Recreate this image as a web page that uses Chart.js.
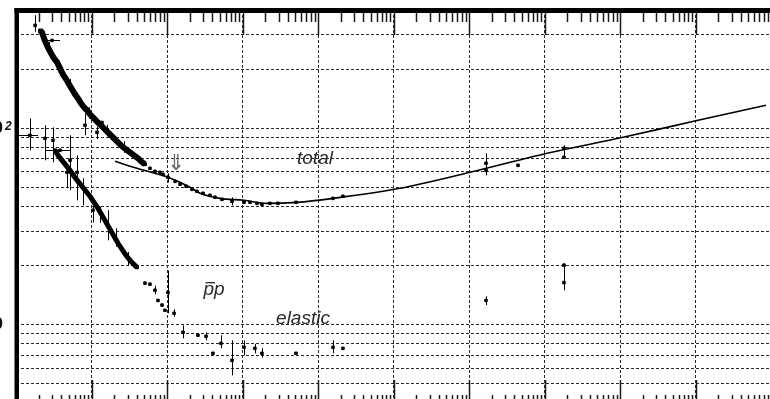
<!DOCTYPE html>
<html><head><meta charset="utf-8">
<script src="https://cdn.jsdelivr.net/npm/chart.js@4.4.1/dist/chart.umd.min.js"></script>
<style>
html,body{margin:0;padding:0;background:#fff;overflow:hidden;width:770px;height:399px;}
#wrap{position:absolute;left:-50px;top:-20px;width:830px;height:450px;}
</style></head><body>
<div id="wrap"><canvas id="c" width="830" height="450"></canvas></div>
<script>
// ---- axes ----
const xDecades = [0.1,1,10,100,1e3,1e4,1e5,1e6,1e7,1e8,1e9];
const minorMultipliers = [1,2,3,4,5,6,7,8,9];
const yGridValues = [4,5,6,7,8,9,10,20,30,40,50,60,70,80,90,100,200,300,400];
const yLabelValues = [10,100];

// ---- data: p(lab) GeV/c vs cross section mb ----
const totalBand = [[0.208,315],[0.221,308],[0.235,287],[0.250,271],[0.265,258],[0.291,241],[0.319,227],[0.349,217],[0.383,202],[0.419,188],[0.460,178],[0.504,167.5],[0.552,158],[0.605,149],[0.663,142],[0.726,134],[0.796,128],[0.872,123.5],[0.955,117.8],[1.079,112.4],[1.219,107],[1.377,102.4],[1.556,97.7],[1.758,93.2],[1.986,88.9],[2.244,84.9],[2.535,81.0],[2.864,78.2],[3.236,75.5],[3.655,72.9],[4.13,70.4],[4.52,67.9],[5.11,65.6]];
const totalPoints = [[0.179,334],[0.300,280],[0.820,103.6],[1.183,95.4],[1.377,107],[5.95,62.6],[6.93,60.4],[8.07,59.7],[8.85,58.3],[10.3,56.3],[12.8,53.7],[14.9,51.9],[17.9,50.7],[21.4,48.9],[24.9,47.8],[30.0,46.7],[37.1,45.6],[43.2,44.6],[53.5,43.5],[72.6,42.5],[104.7,42.0],[125.7,42.0],[155.6,41.5],[181,41.0],[231,41.5],[295,41.5],[511,42.0],[1580,44.0],[2140,45.1],[1.68e5,66.4],[1.68e5,61.1],[4.46e5,64.8],[1.81e6,79.1],[1.81e6,71.2]];
const totalYErr = [[0.179,310,376],[0.27,245,275],[0.52,158,178],[0.820,92.1,119.2],[0.93,112,128],[1.183,88,102],[1.6,91,104],[2.7,75,86],[10.3,53,59],[72.6,40.5,44.5],[1.68e5,57.6,74.6],[1.81e6,70.4,81.9]];
const totalXErr = [[280,0.242,0.383]];
const fitCurve = [[2.05,67.9],[4.006,62.6],[10.3,56.3],[20.2,50.1],[27.4,46.7],[50.3,44.0],[104.7,43.0],[211,41.5],[527,42.0],[1580,44.0],[12200,49.5],[1.03e5,59.7],[1.08e6,74.6],[1.1e7,90.0],[1.08e8,109.8],[8.6e8,131]];

const elasticBand = [[0.329,77.3],[0.360,72.9],[0.407,68.7],[0.460,64.8],[0.519,61.1],[0.587,57.0],[0.663,53.7],[0.748,50.7],[0.845,47.8],[0.955,45.1],[1.079,42.0],[1.219,39.2],[1.377,36.1],[1.556,33.2],[1.758,30.6],[1.986,28.2],[2.244,26.0],[2.535,24.2],[2.864,22.6],[3.236,21.3],[3.655,20.3],[4.006,19.6]];
const elasticPoints = [[0.153,92.1],[0.242,88.9],[0.309,86.9],[0.383,77.3],[0.519,68.7],[0.643,59.7],[0.474,59.7],[0.772,50.1],[1.047,38.3],[1.654,32.1],[5.11,16.3],[5.95,16.1],[6.93,15.0],[7.60,13.3],[8.59,12.6],[9.41,11.85],[10.3,14.6],[12.4,11.45],[16.3,9.16],[25.7,8.85],[32.9,8.74],[40.6,7.16],[51.9,8.05],[72.6,6.59],[104.7,7.68],[146,7.59],[181,7.16],[511,7.16],[1580,7.68],[2140,7.59],[1.68e5,13.3],[1.81e6,16.4],[1.81e6,20.1]];
const elasticYErr = [[0.153,77.3,112.4],[0.242,68.7,103.6],[0.309,67.1,101],[0.519,48.4,92.1],[0.643,43.0,72.9],[0.474,49.5,64.8],[0.772,40.6,55.7],[1.047,33.2,43.0],[1.3,33,40],[1.654,26.9,38.3],[2.1,25,31],[3.0,20,23.5],[6.93,14.3,15.8],[10.3,11.45,18.9],[12.4,11.0,12.0],[16.3,8.53,9.94],[32.9,8.34,9.16],[51.9,7.59,8.85],[72.6,5.53,8.34],[104.7,7.0,8.34],[146,7.16,8.0],[181,6.8,7.6],[1580,7.16,8.34],[1.68e5,12.6,13.96],[1.81e6,15.0,20.6]];
const elasticXErr = [[92.1,0.1,0.196],[77.3,0.242,0.519]];

const textLabels = [
  {text:'total', x:912, y:70.4},
  {text:'pp', x:41.9, y:15.0, barOnFirst:true},
  {text:'elastic', x:633, y:10.8}
];
const arrowMarks = [{text:'\u21D3', x:13.2, y:65.6}];

const toXY = a => a.map(([x,y]) => ({x, y}));

const deco = {
  id:'deco',
  afterDatasetsDraw(chart){
    const {ctx, chartArea:a, scales:{x, y}} = chart;
    ctx.save();
    ctx.beginPath(); ctx.rect(a.left, a.top, a.right-a.left, a.bottom-a.top); ctx.clip();
    ctx.strokeStyle = '#000'; ctx.lineWidth = 1;
    for (const [xv, lo, hi] of totalYErr.concat(elasticYErr)) {
      const px = Math.round(x.getPixelForValue(xv)) + 0.5;
      ctx.beginPath(); ctx.moveTo(px, y.getPixelForValue(lo)); ctx.lineTo(px, y.getPixelForValue(hi)); ctx.stroke();
    }
    for (const [yv, lo, hi] of totalXErr.concat(elasticXErr)) {
      const py = Math.round(y.getPixelForValue(yv)) + 0.5;
      ctx.beginPath(); ctx.moveTo(x.getPixelForValue(lo), py); ctx.lineTo(x.getPixelForValue(hi), py); ctx.stroke();
    }
    // annotations
    ctx.fillStyle = '#2a2a2a'; ctx.strokeStyle = '#2a2a2a';
    ctx.textAlign = 'center'; ctx.textBaseline = 'middle';
    ctx.font = 'italic 19px "Liberation Sans", Arial, sans-serif';
    for (const t of textLabels) {
      const px = x.getPixelForValue(t.x), py = y.getPixelForValue(t.y);
      ctx.fillText(t.text, px, py);
      if (t.barOnFirst) {
        const w = ctx.measureText(t.text).width;
        const w1 = ctx.measureText(t.text[0]).width;
        const x0 = px - w / 2;
        ctx.lineWidth = 1.3;
        ctx.beginPath(); ctx.moveTo(x0 + 2, py - 7.5); ctx.lineTo(x0 + w1 + 1, py - 7.5); ctx.stroke();
      }
    }
    ctx.fillStyle = '#666';
    ctx.font = '22px "DejaVu Sans", sans-serif';
    for (const t of arrowMarks) ctx.fillText(t.text, x.getPixelForValue(t.x), y.getPixelForValue(t.y));
    ctx.restore();

    ctx.save();
    // inward tick marks on top and bottom axes
    ctx.strokeStyle = '#1a1a1a'; ctx.lineWidth = 1.5;
    for (const d of xDecades) for (const m of minorMultipliers) {
      const v = d * m;
      if (v > x.max) continue;
      const px = Math.round(x.getPixelForValue(v)) + 0.5;
      const major = m === 1;
      ctx.beginPath(); ctx.moveTo(px, a.top); ctx.lineTo(px, a.top + (major ? 25 : 12)); ctx.stroke();
      ctx.beginPath(); ctx.moveTo(px, a.bottom); ctx.lineTo(px, a.bottom - (major ? 23 : 8)); ctx.stroke();
    }
    // thick frame
    ctx.fillStyle = '#000';
    ctx.fillRect(a.left - 1.5, a.top - 2, 4.5, a.bottom - a.top + 2);
    ctx.fillRect(a.left - 1.5, a.top - 2, a.right - a.left + 3, 5);
    // y labels (10, 10^2)
    ctx.fillStyle = '#111';
    ctx.textBaseline = 'middle';
    for (const v of yLabelValues) {
      const e = Math.round(Math.log10(v));
      const py = y.getPixelForValue(v);
      ctx.textAlign = 'right';
      ctx.font = 'bold 17px "Liberation Sans", Arial, sans-serif';
      ctx.fillText('10', a.left - 13, py);
      if (e > 1) {
        ctx.textAlign = 'left';
        ctx.font = 'bold italic 12px "Liberation Sans", Arial, sans-serif';
        ctx.fillText(String(e), a.left - 11, py - 2);
      }
    }
    ctx.restore();
  }
};

const gridOpts = {color:'#2a2a2a', lineWidth:1, drawTicks:false};
new Chart(document.getElementById('c'), {
  type:'scatter',
  data:{datasets:[
    {data:toXY(fitCurve), showLine:true, borderColor:'#000', borderWidth:1.6, pointRadius:0, cubicInterpolationMode:'monotone', order:1},
    {data:toXY(totalBand), showLine:true, borderColor:'#000', backgroundColor:'#000', borderWidth:6, pointRadius:2, pointBorderWidth:1, pointStyle:'rect', order:2},
    {data:toXY(elasticBand), showLine:true, borderColor:'#000', backgroundColor:'#000', borderWidth:5, pointRadius:2, pointBorderWidth:1, pointStyle:'rect', order:3},
    {data:toXY(totalPoints), borderColor:'#000', backgroundColor:'#000', pointRadius:1.8, pointBorderWidth:1, pointStyle:'rect', order:4},
    {data:toXY(elasticPoints), borderColor:'#000', backgroundColor:'#000', pointRadius:1.8, pointBorderWidth:1, pointStyle:'rect', order:5}
  ]},
  options:{
    responsive:false, animation:false, devicePixelRatio:1,
    layout:{padding:{top:30, right:9, left:0, bottom:0}},
    plugins:{legend:{display:false}, tooltip:{enabled:false}},
    scales:{
      x:{type:'logarithmic', min:0.1, max:1e9,
         afterBuildTicks:s => { s.ticks = xDecades.map(v => ({value:v})); },
         afterFit:s => { s.height = 27; },
         ticks:{display:false}, grid:gridOpts, border:{display:false, dash:[3,2]}},
      y:{type:'logarithmic', min:4, max:400,
         afterBuildTicks:s => { s.ticks = yGridValues.map(v => ({value:v})); },
         afterFit:s => { s.width = 66; },
         ticks:{display:false}, grid:gridOpts, border:{display:false, dash:[3,2]}}
    }
  },
  plugins:[deco]
});
</script>
</body></html>
